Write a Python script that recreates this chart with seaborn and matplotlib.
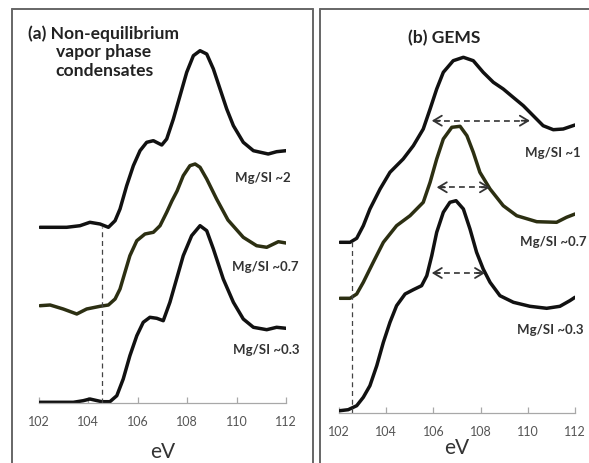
import matplotlib
matplotlib.use("Agg")
import matplotlib.pyplot as plt
import seaborn as sns
import pandas as pd
from matplotlib.lines import Line2D

# ---------------- data (intensity in arbitrary units, offset per spectrum) ----------------
ticks = [102, 104, 106, 108, 110, 112]

# (a) Non-equilibrium vapor phase condensates
a_ev_2 = [102.04, 103.12, 103.66, 104.06, 104.47, 104.81, 105.08, 105.28, 105.55, 105.82,
          106.09, 106.36, 106.63, 106.97, 107.17, 107.44, 107.71, 107.98, 108.25, 108.52,
          108.79, 109.06, 109.33, 109.60, 109.87, 110.27, 110.68, 111.28, 111.62, 112.0]
a_i_2 = [175.7, 175.7, 177.3, 180.7, 179, 175.7, 182.3, 194, 217.3, 237.3,
         252.3, 260.7, 262.3, 258, 264, 284, 307.3, 330.7, 347.3, 352.3,
         349, 334, 314, 294, 277.3, 260.7, 252.3, 249, 251.3, 252.3]

a_ev_07 = [102.04, 102.45, 102.98, 103.53, 103.93, 104.47, 104.81, 105.08, 105.28, 105.48,
           105.68, 105.96, 106.29, 106.63, 106.90, 107.17, 107.38, 107.59, 107.84, 108.11,
           108.32, 108.52, 108.79, 109.19, 109.65, 110.27, 110.81, 111.22, 111.69, 112.0]
a_i_07 = [97.3, 98, 94, 89, 94, 96.7, 98, 104, 114, 130.7,
          147.3, 162.3, 169, 170.7, 177.3, 190.7, 202, 212, 227.3, 237.3,
          239, 235.7, 224, 204, 183, 165.7, 157.3, 155.7, 161.3, 160]

a_ev_03 = [102.04, 103.39, 103.79, 104.06, 104.54, 104.87, 105.15, 105.41, 105.68, 105.96,
           106.22, 106.49, 106.77, 107.03, 107.30, 107.57, 107.84, 108.18, 108.52, 108.79,
           109.06, 109.46, 109.87, 110.27, 110.68, 111.22, 111.62, 112.0]
a_i_03 = [0.7, 0.7, 2.3, 4, 1.3, 1.3, 7.3, 24, 47.3, 67.3,
          80.7, 85.7, 84.7, 82.3, 100.7, 124, 147.3, 167.3, 177.3, 172.3,
          154, 124, 100.7, 84, 75.7, 73.3, 75.7, 74.7]

# (b) GEMS
b_ev_1 = [102.04, 102.47, 102.75, 103.03, 103.31, 103.74, 104.16, 104.72, 105.15, 105.57,
          105.86, 106.14, 106.42, 106.84, 107.27, 107.69, 108.11, 108.54, 108.96, 109.38,
          109.81, 110.23, 110.65, 111.08, 111.50, 112.0]
b_i_1 = [170.7, 170.7, 174.7, 187.3, 204, 224, 240.7, 254, 267.3, 284,
         304, 324, 340.7, 352.3, 355.7, 352.3, 340.7, 330.7, 324, 315.7,
         307.3, 297.3, 287.3, 283.3, 284, 288]

b_ev_07 = [102.04, 102.47, 102.75, 103.03, 103.45, 103.88, 104.44, 105.01, 105.57, 105.86,
           106.14, 106.42, 106.78, 107.13, 107.42, 107.69, 107.97, 108.40, 108.96, 109.53,
           110.38, 111.22, 111.64, 112.0]
b_i_07 = [114.7, 114.7, 119, 130.7, 150.7, 170.7, 187.3, 197.3, 210.7, 230.7,
          254, 274, 285.7, 286.7, 277.3, 260.7, 240.7, 224, 207.3, 197.3,
          191.3, 190.7, 195.7, 199]

b_ev_03 = [102.04, 102.39, 102.75, 103.03, 103.31, 103.60, 103.88, 104.16, 104.44, 104.80,
           105.15, 105.50, 105.72, 105.93, 106.14, 106.42, 106.70, 106.96, 107.27, 107.55,
           107.83, 108.11, 108.40, 108.82, 109.39, 110.09, 110.80, 111.36, 111.78, 112.0]
b_i_03 = [2.3, 3.3, 7.3, 15.7, 27.3, 47.3, 70.7, 90.7, 107.3, 119,
          123.3, 127.3, 137.3, 157.3, 180.7, 200.7, 210.7, 212.3, 204, 184,
          160.7, 144, 130.7, 117.3, 110.7, 106.7, 104.7, 106.7, 112.3, 115.7]

a_labels = ["Mg/SI ~2", "Mg/SI ~0.7", "Mg/SI ~0.3"]
b_labels = ["Mg/SI ~1", "Mg/SI ~0.7", "Mg/SI ~0.3"]

# FWHM arrows (b): start eV, end eV, height
b_arrow_x0 = [105.93, 106.14, 105.93]
b_arrow_x1 = [110.09, 108.40, 108.19]
b_arrow_y = [292.3, 225.7, 140]

# onset dashed lines: eV, top
a_onset = (104.54, 176)
b_onset = (102.54, 170.7)

# ---------------- style ----------------
sns.set_theme(style="white")
plt.rcParams["font.family"] = ["Lato", "DejaVu Sans"]

W, H = 589, 464
fig = plt.figure(figsize=(W / 100, H / 100), dpi=100)
fig.patch.set_facecolor("white")

def px_axes(x0, x1, base, top):
    return fig.add_axes([x0 / W, 1 - base / H, (x1 - x0) / W, (base - top) / H])

axA = px_axes(39, 286, 404, 10)
axB = px_axes(339, 575, 414, 10)
axA.set_ylim(0, 394)
axB.set_ylim(0, 404)

dark = "#111111"
olive = "#2c2f12"

def draw(ax, evs, ints, labels):
    frames = []
    for ev, it, lab in zip(evs, ints, labels):
        frames.append(pd.DataFrame({"eV": ev, "I": it, "s": lab}))
    df = pd.concat(frames, ignore_index=True)
    pal = {labels[0]: dark, labels[1]: olive, labels[2]: dark}
    sns.lineplot(data=df, x="eV", y="I", hue="s", palette=pal, ax=ax, legend=False,
                 lw=2.5, estimator=None, sort=True, solid_capstyle="round",
                 solid_joinstyle="round")

draw(axA, [a_ev_2, a_ev_07, a_ev_03], [a_i_2, a_i_07, a_i_03], a_labels)
draw(axB, [b_ev_1, b_ev_07, b_ev_03], [b_i_1, b_i_07, b_i_03], b_labels)

for ax in (axA, axB):
    ax.set_xlim(102, 112)
    ax.set_facecolor("none")
    for s in ("top", "right", "left"):
        ax.spines[s].set_visible(False)
    ax.spines["bottom"].set_color("#a8a8a8")
    ax.spines["bottom"].set_linewidth(0.9)
    ax.set_xticks(ticks)
    ax.set_xticklabels([str(t) for t in ticks])
    ax.tick_params(axis="x", direction="in", length=4, width=0.9, color="#a8a8a8",
                   labelsize=9, labelcolor="#555555", pad=9, bottom=True)
    ax.set_yticks([])
    ax.set_ylabel("")
    ax.set_xlabel("eV", fontsize=15, color="#333333")
    ax.patch.set_alpha(0)

axA.xaxis.labelpad = 10
axB.xaxis.labelpad = 0

# onset dashed lines
axA.plot([a_onset[0], a_onset[0]], [0, a_onset[1]], ls=(0, (4, 3)), lw=0.9, color="#444444")
axB.plot([b_onset[0], b_onset[0]], [0, b_onset[1]], ls=(0, (4, 3)), lw=0.9, color="#444444")

# FWHM arrows
for x0, x1, y in zip(b_arrow_x0, b_arrow_x1, b_arrow_y):
    axB.plot([x0 + 0.1, x1 - 0.1], [y, y], ls=(0, (3.5, 2.5)), lw=1.2, color="#333333")
    for xa, xb in ((x0, x0 + 0.35), (x1, x1 - 0.35)):
        axB.annotate("", xy=(xa, y), xytext=(xb, y),
                     arrowprops=dict(arrowstyle="->,head_length=0.5,head_width=0.3",
                                     lw=1.3, color="#333333", shrinkA=0, shrinkB=0))

# series labels
lab_kw = dict(fontsize=9.5, fontweight="bold", color="#333333", ha="center", va="center",
              clip_on=False)
for (x, y), t in zip([(111.07, 226), (111.15, 137), (111.2, 54)], a_labels):
    axA.text(x, y, t, **lab_kw)
for (x, y), t in zip([(111.07, 261), (111.07, 172), (110.94, 84)], b_labels):
    axB.text(x, y, t, **lab_kw)

# panel titles
fig.text(104 / W, 1 - 52 / H, "(a) Non-equilibrium\nvapor phase\ncondensates",
         ha="center", va="center", fontsize=12.6, fontweight="bold", color="#222222",
         linespacing=1.2)
fig.text(444 / W, 1 - 38 / H, "(b) GEMS", ha="center", va="center", fontsize=12.6,
         fontweight="bold", color="#222222")

# panel frames
def fline(x0, y0, x1, y1):
    fig.add_artist(Line2D([x0 / W, x1 / W], [1 - y0 / H, 1 - y1 / H],
                          transform=fig.transFigure, color="#666666", lw=1.4))

fline(12, 10, 313, 10)
fline(12, 10, 12, 470)
fline(313, 10, 313, 470)
fline(320, 10, 595, 10)
fline(320, 10, 320, 470)

fig.savefig("out.png", dpi=100, facecolor="white")
